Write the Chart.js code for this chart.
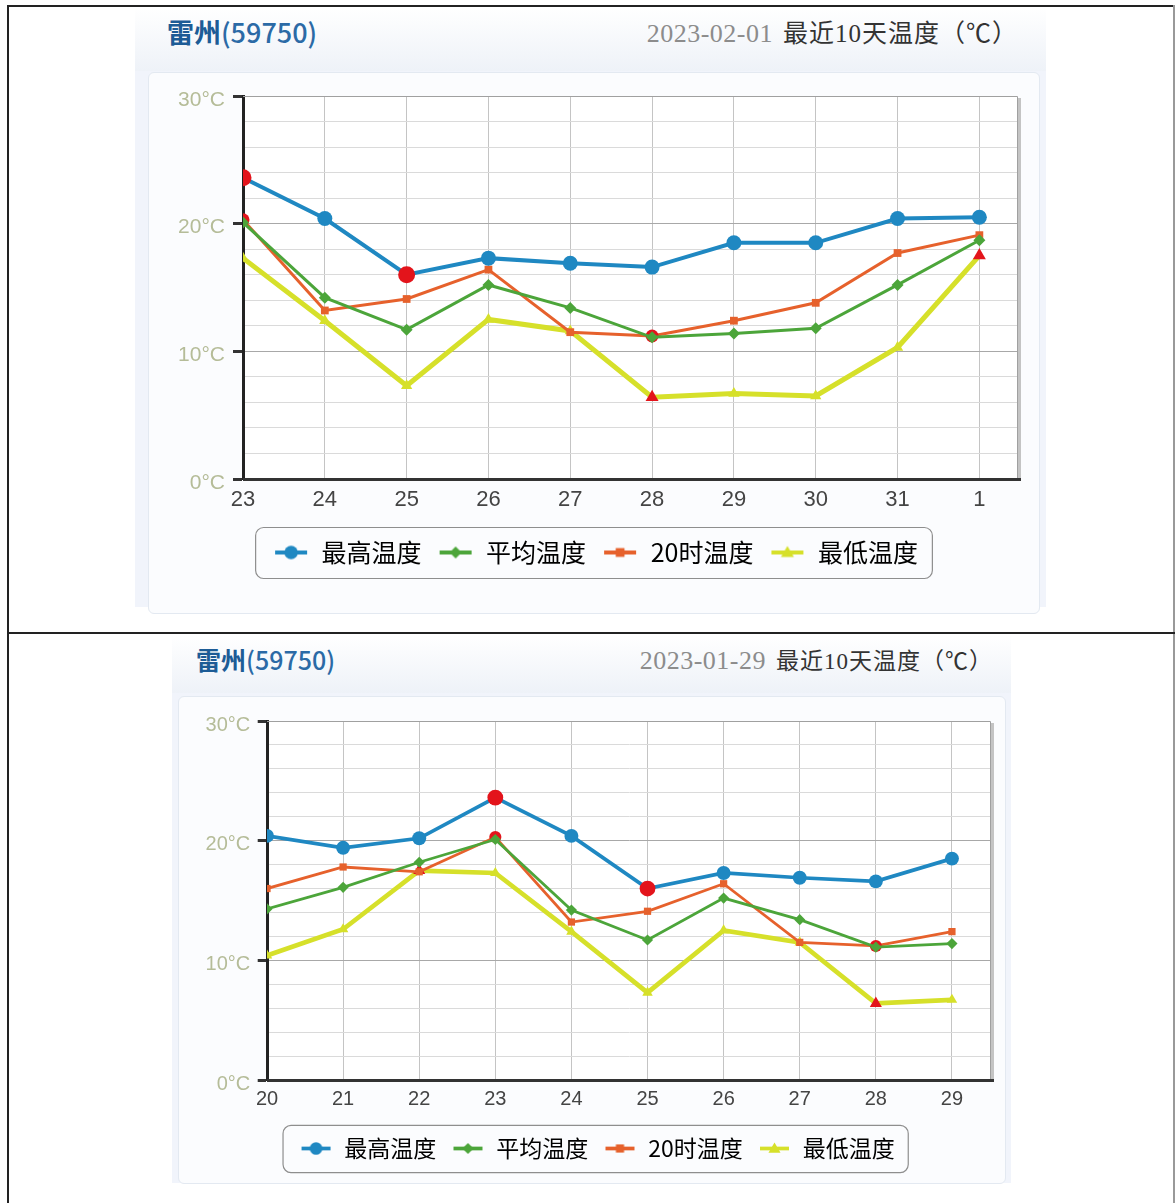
<!DOCTYPE html>
<html>
<head>
<meta charset="utf-8">
<script src="https://cdn.jsdelivr.net/npm/chart.js@4.4.1/dist/chart.umd.min.js"></script>
<style>
    body { margin: 0; background: #fff; width: 1175px; height: 1203px; position: relative; overflow: hidden; }
    .rule { position: absolute; background: #222; }
    .panel { position: absolute; background: #f1f4fb; }
    .head { position: absolute; left: 0; top: 0; right: 0; height: 64px; background: linear-gradient(#ffffff, #eef2f8); }
    .title { position: absolute; font-family: "Noto Sans CJK SC"; color: #1d5c96; white-space: nowrap; }
    .title b { font-weight: 700; }
    .title span { font-weight: 500; color: #2b6aa6; }
    .sub { position: absolute; white-space: nowrap; font-family: "Noto Sans CJK SC"; color: #333; letter-spacing: 1px; }
    .sub .d { font-family: "Liberation Serif"; color: #8c8c8c; margin-right: 10px; letter-spacing: 0.5px; }
    .sub .n { font-family: "Liberation Serif"; }
    .inner { position: absolute; background: #fbfcfe; border: 1px solid #e3e9f1; border-radius: 6px; }
    canvas { position: absolute; }
</style>
</head>
<body>
<!-- table borders -->
<div class="rule" style="left:7px;top:5px;width:1168px;height:2px"></div>
<div class="rule" style="left:7px;top:5px;width:2px;height:1198px"></div>
<div class="rule" style="left:1173px;top:5px;width:2px;height:1198px;background:#999"></div>
<div class="rule" style="left:7px;top:632px;width:1168px;height:2px"></div>

<!-- top panel -->
<div class="panel" style="left:135px;top:7px;width:911px;height:600px">
    <div class="head"></div>
    <div class="title" style="left:32px;top:5px;font-size:27px"><b>雷州</b><span>(59750)</span></div>
    <div class="sub" style="right:28px;top:6px;font-size:25px"><span class="d" style="font-size:26px">2023-02-01</span>最近<span class="n">10</span>天温度（℃）</div>
    <div class="inner" style="left:13px;top:65px;width:890px;height:540px"></div>
</div>
<canvas id="chartFeb" width="892" height="535" style="left:148px;top:72px"></canvas>

<!-- bottom panel -->
<div class="panel" style="left:172px;top:635px;width:839px;height:548px">
    <div class="head" style="height:58px"></div>
    <div class="title" style="left:24px;top:6px;font-size:25px"><b>雷州</b><span>(59750)</span></div>
    <div class="sub" style="right:18px;top:7px;font-size:23px"><span class="d" style="font-size:26px">2023-01-29</span>最近<span class="n">10</span>天温度（℃）</div>
    <div class="inner" style="left:6px;top:61px;width:826px;height:486px"></div>
</div>
<canvas id="chartJan" width="827" height="486" style="left:178px;top:697px"></canvas>

<script>
// 2023-02-01 chart (Jan 23 - Feb 1)
const daysFeb = ['23', '24', '25', '26', '27', '28', '29', '30', '31', '1'];
const highFeb = [23.6, 20.4, 16.0, 17.3, 16.9, 16.6, 18.5, 18.5, 20.4, 20.5];
const avgFeb = [20.1, 14.2, 11.7, 15.2, 13.4, 11.1, 11.4, 11.8, 15.2, 18.7];
const t20Feb = [20.3, 13.2, 14.1, 16.4, 11.5, 11.2, 12.4, 13.8, 17.7, 19.1];
const lowFeb = [17.3, 12.4, 7.3, 12.5, 11.6, 6.4, 6.7, 6.5, 10.3, 17.5];

// 2023-01-29 chart (Jan 20 - Jan 29)
const daysJan = ['20', '21', '22', '23', '24', '25', '26', '27', '28', '29'];
const highJan = [20.4, 19.4, 20.2, 23.6, 20.4, 16.0, 17.3, 16.9, 16.6, 18.5];
const avgJan = [14.3, 16.1, 18.2, 20.1, 14.2, 11.7, 15.2, 13.4, 11.1, 11.4];
const t20Jan = [16.0, 17.8, 17.4, 20.3, 13.2, 14.1, 16.4, 11.5, 11.2, 12.4];
const lowJan = [10.4, 12.6, 17.5, 17.3, 12.4, 7.3, 12.5, 11.5, 6.4, 6.7];

const yTicks = [0, 10, 20, 30];
const seriesNames = ['最高温度', '平均温度', '20时温度', '最低温度'];

const RED = '#e3141b';
const styles = [
    { color: '#1f88c2', point: 'circle', radius: 7.5, width: 4, mark: true, markStyle: 'circle' },
    { color: '#4ca53a', point: 'rectRot', radius: 6, width: 3, mark: false },
    { color: '#e6612c', point: 'rect', radius: 5.5, width: 3, mark: true, markStyle: 'circle' },
    { color: '#d6e02a', point: 'triangle', radius: 6.5, width: 5, mark: true, markStyle: 'triangle' }
];

// small line+marker picture for the legend
function legendSymbol(st, scale) {
    const c = document.createElement('canvas');
    c.width = Math.round(36 * scale);
    c.height = Math.round(18 * scale);
    const g = c.getContext('2d');
    const cx = c.width / 2, cy = c.height / 2;
    g.strokeStyle = st.color;
    g.lineWidth = 4 * scale;
    g.beginPath(); g.moveTo(2, cy); g.lineTo(c.width - 2, cy); g.stroke();
    g.fillStyle = st.color;
    const r = st.radius * scale;
    g.beginPath();
    if (st.point === 'circle') g.arc(cx, cy, r * 0.9, 0, Math.PI * 2);
    else if (st.point === 'rectRot') { g.moveTo(cx, cy - r); g.lineTo(cx + r, cy); g.lineTo(cx, cy + r); g.lineTo(cx - r, cy); }
    else if (st.point === 'rect') g.rect(cx - r * 0.8, cy - r * 0.8, r * 1.6, r * 1.6);
    else { g.moveTo(cx, cy - r); g.lineTo(cx + r, cy + r * 0.7); g.lineTo(cx - r, cy + r * 0.7); }
    g.closePath();
    g.fill();
    return c;
}

// frame of the plot (grey top/right edge with shadow) and legend box
const framePlugin = {
    id: 'frame',
    beforeDraw(chart) {
        const a = chart.chartArea, ctx = chart.ctx;
        ctx.save();
        ctx.fillStyle = '#ffffff';
        ctx.fillRect(a.left, a.top, a.right - a.left, a.bottom - a.top);
        ctx.restore();
    },
    afterDraw(chart) {
        const a = chart.chartArea, ctx = chart.ctx;
        ctx.save();
        ctx.fillStyle = '#c4c4c4';
        ctx.fillRect(a.right, a.top + 2, 4, a.bottom - a.top);
        ctx.strokeStyle = '#a0a0a0';
        ctx.lineWidth = 1;
        ctx.beginPath();
        ctx.moveTo(a.left, a.top + 0.5);
        ctx.lineTo(a.right + 0.5, a.top + 0.5);
        ctx.lineTo(a.right + 0.5, a.bottom);
        ctx.stroke();
        ctx.fillStyle = '#333';
        ctx.fillRect(a.left, a.bottom - 1, a.right - a.left + 4, 3);

        const boxes = chart.legend.legendHitBoxes;
        if (boxes && boxes.length) {
            const pad = chart.options.plugins.frame;
            const l = Math.min(...boxes.map(b => b.left)) - pad.left;
            const r = Math.max(...boxes.map(b => b.left + b.width)) + pad.right;
            const t = boxes[0].top - pad.v;
            const h = boxes[0].height + pad.v * 2;
            ctx.strokeStyle = '#8e8e8e';
            ctx.lineWidth = 1.2;
            ctx.beginPath();
            ctx.roundRect(l + 0.5, t + 0.5, r - l, h, 8);
            ctx.stroke();
        }
        ctx.restore();
    }
};

function renderChart(canvasId, days, values, opt) {
    const s = opt.scale;
    const datasets = values.map((vals, i) => {
        const st = styles[i];
        const hi = Math.max(...vals), lo = Math.min(...vals);
        const isMark = v => st.mark && (v === hi || v === lo);
        return {
            label: seriesNames[i],
            data: days.map((d, k) => ({ x: k, y: vals[k] })),
            borderColor: st.color,
            borderWidth: st.width * s,
            backgroundColor: st.color,
            tension: 0,
            pointStyle: vals.map(v => isMark(v) ? st.markStyle : st.point),
            pointRadius: vals.map(v => (isMark(v) ? st.radius + 1 : st.radius) * s),
            pointBackgroundColor: vals.map(v => isMark(v) ? RED : st.color),
            pointBorderColor: vals.map(v => isMark(v) ? RED : st.color),
            pointBorderWidth: 0
        };
    });
    const symbols = styles.map(st => legendSymbol(st, s));

    const ctx = document.getElementById(canvasId).getContext('2d');
    new Chart(ctx, {
        type: 'line',
        data: { datasets: datasets },
        options: {
            responsive: false,
            animation: false,
            events: [],
            layout: { padding: opt.padding },
            scales: {
                x: {
                    type: 'linear',
                    min: 0,
                    max: opt.xMax,
                    afterFit: sc => { sc.height = opt.xAxisH; },
                    border: { display: false },
                    grid: { color: '#c4c4c4', lineWidth: 1, drawTicks: false },
                    ticks: {
                        stepSize: 1,
                        includeBounds: false,
                        autoSkip: false,
                        maxRotation: 0,
                        padding: 8 * s,
                        color: '#444',
                        font: { family: 'Liberation Sans', size: Math.round(22 * s) },
                        callback: v => days[v] ?? ''
                    }
                },
                y: {
                    min: 0,
                    max: 30,
                    afterFit: sc => { sc.width = opt.yAxisW; },
                    border: { color: '#222', width: 3 },
                    grid: {
                        color: c => yTicks.includes(c.tick.value) ? '#a8a8a8' : '#dadada',
                        lineWidth: 1,
                        tickLength: 10 * s,
                        tickWidth: 3,
                        tickColor: c => yTicks.includes(c.tick.value) ? '#333' : 'rgba(0,0,0,0)'
                    },
                    ticks: {
                        stepSize: 2,
                        autoSkip: false,
                        padding: 8 * s,
                        labelOffset: 4,
                        color: '#b5bc98',
                        font: { family: 'Liberation Sans', size: Math.round(21 * s) },
                        callback: v => yTicks.includes(v) ? v + '°C' : ''
                    }
                }
            },
            plugins: {
                tooltip: { enabled: false },
                frame: { left: 18 * s, right: 14 * s, v: 13 * s },
                legend: {
                    position: 'bottom',
                    labels: {
                        usePointStyle: true,
                        pointStyleWidth: 36 * s,
                        padding: opt.legendPad,
                        color: '#333',
                        font: { family: 'Noto Sans CJK SC', size: Math.round(25 * s) },
                        generateLabels: () => seriesNames.map((name, i) => ({
                            text: name,
                            pointStyle: symbols[i],
                            fillStyle: styles[i].color,
                            strokeStyle: styles[i].color,
                            lineWidth: 0,
                            hidden: false,
                            datasetIndex: i
                        }))
                    }
                }
            }
        },
        plugins: [framePlugin]
    });
}

renderChart('chartFeb', daysFeb, [highFeb, avgFeb, t20Feb, lowFeb], {
    scale: 1,
    xMax: 9.46,
    yAxisW: 69,
    xAxisH: 45,
    legendPad: 16,
    padding: { top: 24, right: 23, left: 26, bottom: 32 }
});

renderChart('chartJan', daysJan, [highJan, avgJan, t20Jan, lowJan], {
    scale: 0.93,
    xMax: 9.5,
    yAxisW: 63,
    xAxisH: 42,
    legendPad: 15,
    padding: { top: 24, right: 15, left: 26, bottom: 13 }
});
</script>
</body>
</html>
